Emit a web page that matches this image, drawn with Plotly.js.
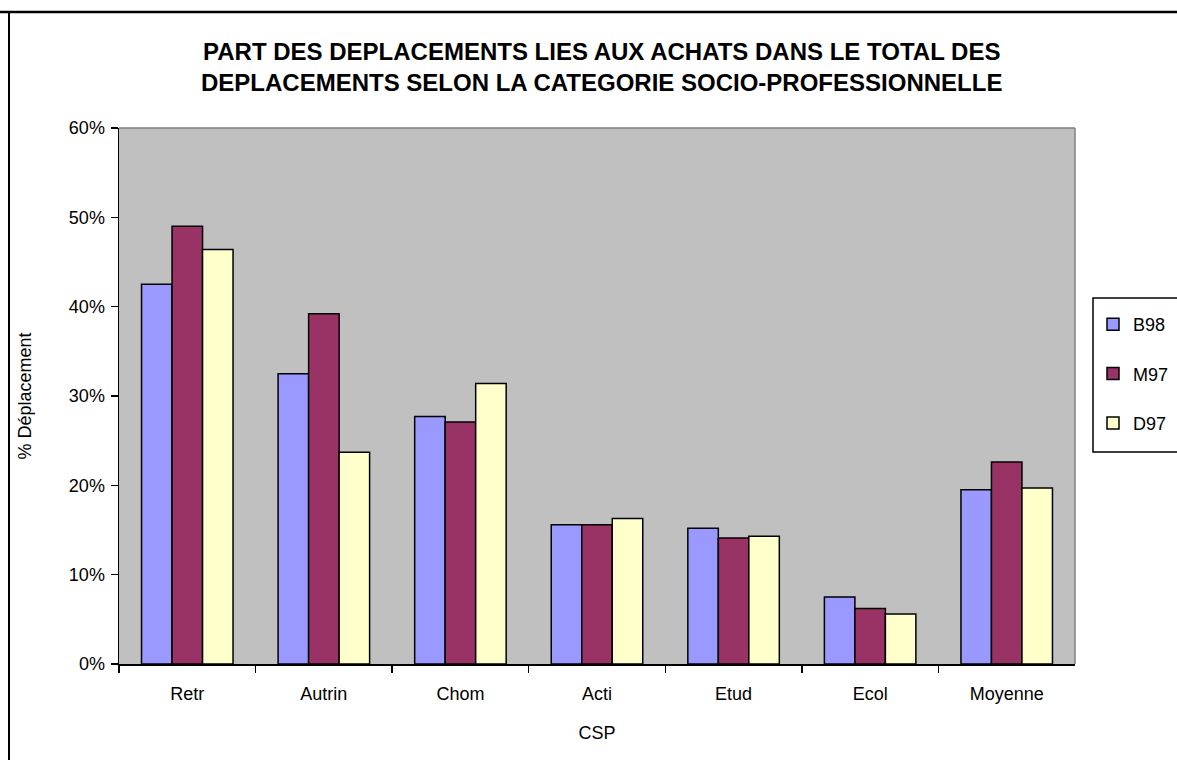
<!DOCTYPE html>
<html>
<head>
<meta charset="utf-8">
<script src="https://cdn.plot.ly/plotly-3.0.1.min.js"></script>
<style>html,body{margin:0;padding:0;background:#fff;overflow:hidden;}#chart{width:1177px;height:760px;overflow:hidden;}</style>
</head>
<body>
<div id="chart"></div>
<script>
const categories = ["Retr", "Autrin", "Chom", "Acti", "Etud", "Ecol", "Moyenne"];
const seriesNames = ["B98", "M97", "D97"];
const valuesB98 = [0.425, 0.325, 0.277, 0.156, 0.152, 0.075, 0.195];
const valuesM97 = [0.490, 0.392, 0.271, 0.156, 0.141, 0.062, 0.226];
const valuesD97 = [0.464, 0.237, 0.314, 0.163, 0.143, 0.056, 0.197];
const yTickVals = [0, 0.1, 0.2, 0.3, 0.4, 0.5, 0.6];
const yTickText = ["0%", "10%", "20%", "30%", "40%", "50%", "60%"];
const titleLine1 = "PART DES DEPLACEMENTS LIES AUX ACHATS DANS LE TOTAL DES";
const titleLine2 = "DEPLACEMENTS SELON LA CATEGORIE SOCIO-PROFESSIONNELLE";
const xTitle = "CSP";
const yTitle = "% Déplacement";

const W = 1177, H = 760;
const px = x => x / W;
const py = y => 1 - y / H;
const FONT = "Liberation Sans, Arial, sans-serif";
const colors = ["#9999FF", "#993366", "#FFFFCC"];
const allValues = [valuesB98, valuesM97, valuesD97];

const traces = allValues.map((vals, i) => ({
  type: "bar",
  name: seriesNames[i],
  x: categories,
  y: vals,
  legendgroup: "g" + i,
  marker: {color: colors[i], line: {color: "#000", width: 1.5}},
  hoverinfo: "x+y+name"
}));

const plotL = 119, plotR = 1075, plotT = 128, plotB = 664;

const layout = {
  width: W, height: H,
  margin: {l: 0, r: 0, t: 0, b: 0},
  paper_bgcolor: "#fff",
  plot_bgcolor: "#C0C0C0",
  font: {family: FONT, color: "#000", size: 18},
  barmode: "group",
  bargap: 0.33,
  bargroupgap: 0,
  showlegend: true,
  legend: {
    x: px(1093), y: py(306), xanchor: "left", yanchor: "top",
    bgcolor: "rgba(0,0,0,0)", borderwidth: 0,
    font: {family: FONT, size: 18, color: "#000"},
    tracegroupgap: 23, itemwidth: 30
  },
  xaxis: {
    domain: [px(plotL), px(plotR)],
    type: "category",
    showline: true, linecolor: "#000", linewidth: 1.5,
    ticks: "outside", tickson: "boundaries", ticklen: 7, tickwidth: 1.5, tickcolor: "#000",
    ticklabelstandoff: 13,
    showgrid: false, zeroline: false,
    tickfont: {family: FONT, size: 18},
    title: {text: xTitle, font: {family: FONT, size: 18}, standoff: 23},
    automargin: false
  },
  yaxis: {
    domain: [1 - plotB / H, 1 - plotT / H],
    range: [0, 0.6],
    tickvals: yTickVals, ticktext: yTickText,
    showline: true, linecolor: "#000", linewidth: 1.5,
    ticks: "outside", ticklen: 7, tickwidth: 1.5, tickcolor: "#000",
    ticklabelstandoff: 2,
    showgrid: false, zeroline: false,
    tickfont: {family: FONT, size: 18},
    title: {text: yTitle, font: {family: FONT, size: 18}, standoff: 32},
    automargin: false
  },
  annotations: [
    {text: "<b>" + titleLine1 + "</b>", x: px(601), y: py(51), xref: "paper", yref: "paper",
     xanchor: "center", yanchor: "middle", showarrow: false, font: {family: FONT, size: 24, color: "#000"}},
    {text: "<b>" + titleLine2 + "</b>", x: px(601), y: py(82), xref: "paper", yref: "paper",
     xanchor: "center", yanchor: "middle", showarrow: false, font: {family: FONT, size: 24, color: "#000"}}
  ],
  shapes: [
    {type: "line", xref: "paper", yref: "paper", x0: 0, x1: 1, y0: py(12), y1: py(12), line: {color: "#000", width: 2.5}},
    {type: "line", xref: "paper", yref: "paper", x0: px(9), x1: px(9), y0: py(12), y1: 0, line: {color: "#000", width: 2}},
    {type: "line", xref: "paper", yref: "paper", x0: px(plotL), x1: px(plotR), y0: py(plotT), y1: py(plotT), line: {color: "#808080", width: 1.5}},
    {type: "line", xref: "paper", yref: "paper", x0: px(plotR), x1: px(plotR), y0: py(plotT), y1: py(plotB), line: {color: "#808080", width: 1.5}},
    {type: "path", xref: "paper", yref: "paper",
     path: "M" + px(1177) + "," + py(298) + " L" + px(1093) + "," + py(298) + " L" + px(1093) + "," + py(452) + " L" + px(1177) + "," + py(452),
     line: {color: "#000", width: 1.5}}
  ]
};

Plotly.newPlot("chart", traces, layout, {displayModeBar: false, staticPlot: true});
</script>
</body>
</html>
